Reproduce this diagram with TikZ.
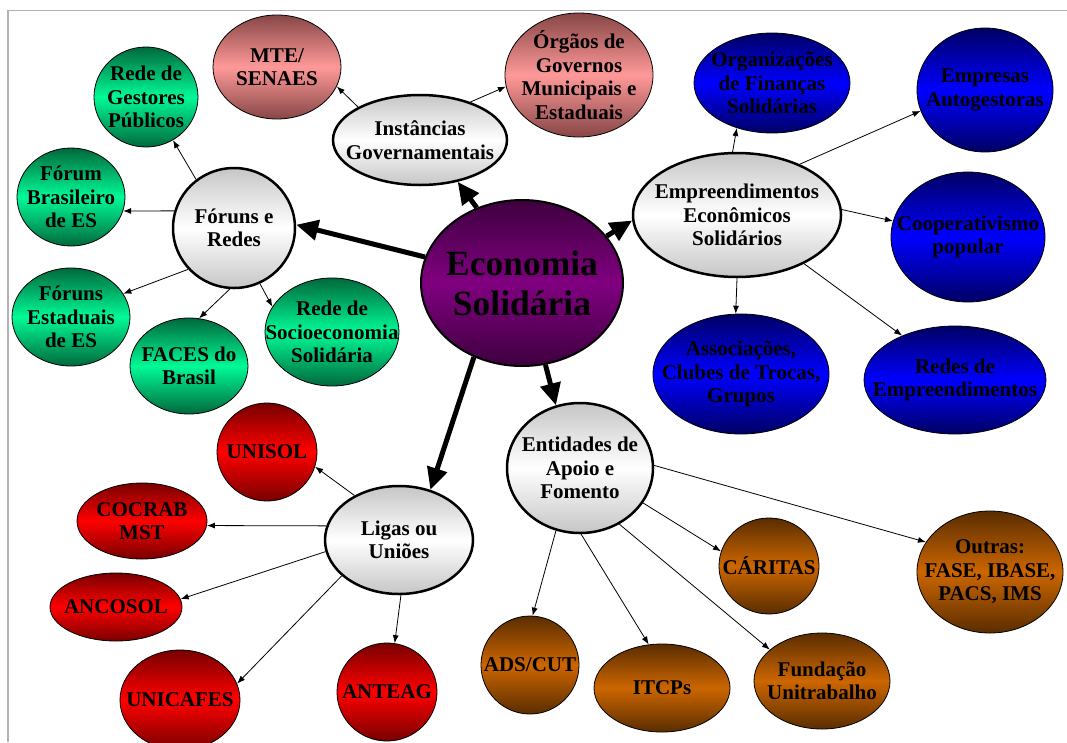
\documentclass[tikz,border=0pt]{standalone}
\usepackage{fontspec}
\setmainfont{Liberation Serif}
\usetikzlibrary{shapes.geometric,arrows.meta}

\definecolor{purpledark}{RGB}{62,0,62}
\definecolor{purplemid}{RGB}{128,0,128}
\definecolor{pinkdark}{RGB}{135,70,70}
\definecolor{pinkmid}{RGB}{255,153,153}
\definecolor{greendark}{RGB}{0,105,60}
\definecolor{greenmid}{RGB}{0,250,150}
\definecolor{bluedark}{RGB}{0,0,100}
\definecolor{bluemid}{RGB}{0,0,255}
\definecolor{reddark}{RGB}{120,0,0}
\definecolor{redmid}{RGB}{255,0,0}
\definecolor{browndark}{RGB}{90,45,0}
\definecolor{brownmid}{RGB}{204,102,0}

\tikzset{
  sz/.style 2 args={minimum width={2*#1pt}, minimum height={2*#2pt}},
  txt/.style={align=center, inner sep=0pt, font=\bfseries\fontsize{21pt}{23.5pt}\selectfont},
  lbl/.style={label={[txt]center:{#1}}},
  blob/.style 2 args={ellipse, inner sep=0pt, draw=black, line width=0.8pt,
    top color=#1, bottom color=#1, middle color=#2},
  topic/.style={ellipse, inner sep=0pt, draw=black, line width=2.5pt,
    top color=gray!45, bottom color=gray!45, middle color=white},
  gov/.style={blob={pinkdark}{pinkmid}},
  forum/.style={blob={greendark}{greenmid}},
  eco/.style={blob={bluedark}{bluemid}},
  liga/.style={blob={reddark}{redmid}},
  apoiobox/.style={blob={browndark}{brownmid}},
  link/.style={->, >={Latex[length=8pt,width=6pt]}, line width=0.8pt},
  bigarrow/.style={-{Triangle[length=22pt,width=20pt]}, line width=5pt},
}

\begin{document}
\begin{tikzpicture}[x=1pt,y=-1pt]
\useasboundingbox (0,0) rectangle (1067,742);
\draw[gray!60, line width=1.5pt] (8,742) -- (8,10.5) -- (1067,10.5);

% centro
\node[ellipse, inner sep=0pt, draw=black, line width=2pt,
  top color=purpledark, bottom color=purpledark, middle color=purplemid,
  sz={101}{83},
  label={[align=center, font=\bfseries\fontsize{35.5pt}{40pt}\selectfont]center:{Economia\\Solidária}}]
  (econ) at (522,283) {};

% instancias governamentais
\node[topic, sz={87}{45}, lbl={Instâncias\\Governamentais}] (inst) at (420,140) {};
\node[gov, sz={64}{52}, lbl={MTE/\\SENAES}] (mte) at (277,67) {};
\node[gov, sz={74}{62}, lbl={Órgãos de\\Governos\\Municipais e\\Estaduais}] (orgaos) at (579,75) {};

% foruns e redes
\node[topic, sz={61}{60}, lbl={Fóruns e\\Redes}] (foruns) at (234,228) {};
\node[forum, sz={52}{50}, lbl={Rede de\\Gestores\\Públicos}] (gestores) at (146,97) {};
\node[forum, sz={54}{49}, lbl={Fórum\\Brasileiro\\de ES}] (brasil) at (71,197) {};
\node[forum, sz={59}{49}, lbl={Fóruns\\Estaduais\\de ES}] (estaduais) at (71,317) {};
\node[forum, sz={59}{48}, lbl={FACES do\\Brasil}] (faces) at (189,366) {};
\node[forum, sz={67}{54}, lbl={Rede de\\Socioeconomia\\Solidária}] (socio) at (332,332) {};

% empreendimentos
\node[topic, sz={104}{62}, lbl={Empreendimentos\\Econômicos\\Solidários}] (emp) at (737,215) {};
\node[eco, sz={78}{50}, lbl={Organizações\\de Finanças\\Solidárias}] (financas) at (772,83) {};
\node[eco, sz={68}{62}, lbl={Empresas\\Autogestoras}] (empresas) at (985,90) {};
\node[eco, sz={77}{65}, lbl={Cooperativismo\\popular}] (coop) at (968,237) {};
\node[eco, sz={88}{60}, lbl={Associações,\\Clubes de Trocas,\\Grupos}] (assoc) at (741,374) {};
\node[eco, sz={91}{54}, lbl={Redes de\\Empreendimentos}] (redes) at (955,380) {};

% ligas ou unioes
\node[topic, sz={74}{54}, lbl={Ligas ou\\Uniões}] (ligas) at (399,540) {};
\node[liga, sz={50}{49}, lbl={UNISOL}] (unisol) at (267,452) {};
\node[liga, sz={65}{38}, lbl={COCRAB\\MST}] (cocrab) at (142,521) {};
\node[liga, sz={66}{34}, lbl={ANCOSOL}] (ancosol) at (116,607) {};
\node[liga, sz={60}{50}, lbl={UNICAFES}] (unicafes) at (180,700) {};
\node[liga, sz={50}{49}, lbl={ANTEAG}] (anteag) at (387,692) {};

% entidades de apoio
\node[topic, sz={73}{65}, lbl={Entidades de\\Apoio e\\Fomento}] (apoio) at (580,468) {};
\node[apoiobox, sz={49}{49}, lbl={ADS/CUT}] (ads) at (530,665) {};
\node[apoiobox, sz={68}{44}, lbl={ITCPs}] (itcp) at (662,688) {};
\node[apoiobox, sz={68}{48}, lbl={Fundação\\Unitrabalho}] (fundacao) at (822,681) {};
\node[apoiobox, sz={50}{48}, lbl={CÁRITAS}] (caritas) at (769,566) {};
\node[apoiobox, sz={73}{61}, lbl={Outras:\\FASE, IBASE,\\PACS, IMS}] (outras) at (990,572) {};

\draw[bigarrow] (econ.121) -- (inst.-48);
\draw[bigarrow] (econ.165) -- (foruns.3);
\draw[bigarrow] (econ.29) -- (emp.183);
\draw[bigarrow] (econ.237) -- (ligas.58);
\draw[bigarrow] (econ.286) -- (apoio.111);

\draw[link] (inst.152) -- (mte.-18);
\draw[link] (inst.37) -- (orgaos.189);

\draw[link] (foruns.128) -- (gestores.-58);
\draw[link] (foruns.164) -- (brasil.-15);
\draw[link] (foruns.222) -- (estaduais.24);
\draw[link] (foruns.266) -- (faces.78);
\draw[link] (foruns.295) -- (socio.157);

\draw[link] (emp.94) -- (financas.232);
\draw[link] (emp.39) -- (empresas.198);
\draw[link] (emp.3) -- (coop.168);
\draw[link] (emp.-90) -- (assoc.95);
\draw[link] (emp.-36) -- (redes.140);

\draw[link] (ligas.135) -- (unisol.-17);
\draw[link] (ligas.169) -- (cocrab.-4);
\draw[link] (ligas.189) -- (ancosol.7);
\draw[link] (ligas.212) -- (unicafes.16);
\draw[link] (ligas.272) -- (anteag.81);

\draw[link] (apoio.249) -- (ads.87);
\draw[link] (apoio.271) -- (itcp.107);
\draw[link] (apoio.305) -- (fundacao.149);
\draw[link] (apoio.331) -- (caritas.163);
\draw[link] (apoio.2) -- (outras.155);

\end{tikzpicture}
\end{document}
